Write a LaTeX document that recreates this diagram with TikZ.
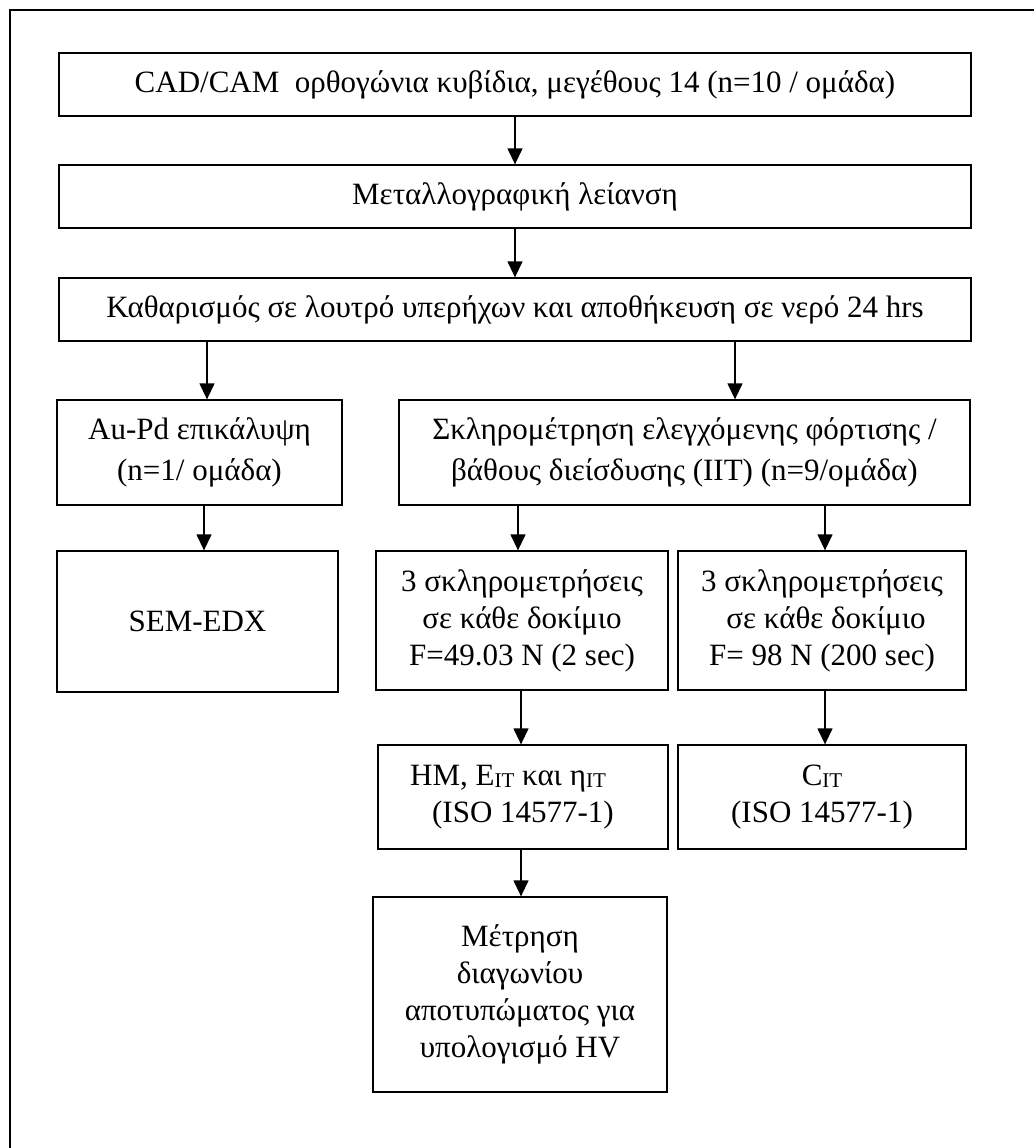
\documentclass[tikz,border=0pt]{standalone}
\usepackage{fontspec}
\setmainfont{Liberation Serif}
\usetikzlibrary{arrows.meta}
\newcommand{\myIT}{\raisebox{-2pt}{\fontsize{21}{21}\selectfont IT}}
\begin{document}
\begin{tikzpicture}[x=1pt,y=-1pt,
  box/.style={draw=black, line width=1.3pt, inner sep=0pt, align=center,
    font=\fontsize{31}{37}\selectfont},
  wide/.style={font=\fontsize{31}{41}\selectfont},
  arr/.style={line width=1.3pt, -{Triangle[width=15pt,length=16pt]}}]
\useasboundingbox (0,0) rectangle (1034,1148);
\draw[line width=1.3pt] (10,1148) -- (10,10) -- (1034,10);
\node[box, minimum width=912pt, minimum height=63pt] (b1) at (515,84.5)
  {CAD/CAM\ \ ορθογώνια κυβίδια, μεγέθους 14 (n=10 / ομάδα)};
\node[box, minimum width=912pt, minimum height=63pt] (b2) at (515,196.5)
  {Μεταλλογραφική λείανση};
\node[box, minimum width=912pt, minimum height=63pt] (b3) at (515,309.5)
  {Καθαρισμός σε λουτρό υπερήχων και αποθήκευση σε νερό 24 hrs};
\node[box, wide, minimum width=285pt, minimum height=105pt] (aupd) at (199.5,452.5)
  {Au-Pd επικάλυψη\\(n=1/ ομάδα)};
\node[box, wide, minimum width=571pt, minimum height=105pt] (skl) at (684.5,452.5)
  {Σκληρομέτρηση ελεγχόμενης φόρτισης /\\βάθους διείσδυσης (IIT) (n=9/ομάδα)};
\node[box, minimum width=281pt, minimum height=141pt] (sem) at (197.5,621.5)
  {SEM-EDX};
\node[box, minimum width=292pt, minimum height=139pt] (s3l) at (522,620.5)
  {3 σκληρομετρήσεις\\σε κάθε δοκίμιο\\F=49.03 N (2 sec)};
\node[box, minimum width=288pt, minimum height=139pt] (s3r) at (822,620.5)
  {3 σκληρομετρήσεις\\\hspace*{8pt}σε κάθε δοκίμιο\\F= 98 N (200 sec)};
\node[box, minimum width=290pt, minimum height=104pt] (hm) at (523,797)
  {HM, E\myIT{} και η\myIT\hspace*{30pt}\\(ISO 14577-1)};
\node[box, minimum width=288pt, minimum height=104pt] (cit) at (822,797)
  {C\myIT\\(ISO 14577-1)};
\node[box, minimum width=294pt, minimum height=195pt] (metr) at (520,994.5)
  {Μέτρηση\\διαγωνίου\\αποτυπώματος για\\υπολογισμό HV};
\coordinate (xa) at (207,0);
\coordinate (xb) at (735,0);
\coordinate (xc) at (204,0);
\coordinate (xd) at (518,0);
\coordinate (xe) at (825,0);
\coordinate (xf) at (521,0);
\draw[arr] (b1) -- (b2);
\draw[arr] (b2) -- (b3);
\draw[arr] (b3.south -| xa) -- (aupd.north -| xa);
\draw[arr] (b3.south -| xb) -- (skl.north -| xb);
\draw[arr] (aupd.south -| xc) -- (sem.north -| xc);
\draw[arr] (skl.south -| xd) -- (s3l.north -| xd);
\draw[arr] (skl.south -| xe) -- (s3r.north -| xe);
\draw[arr] (s3l.south -| xf) -- (hm.north -| xf);
\draw[arr] (s3r.south -| xe) -- (cit.north -| xe);
\draw[arr] (hm.south -| xf) -- (metr.north -| xf);
\end{tikzpicture}
\end{document}
